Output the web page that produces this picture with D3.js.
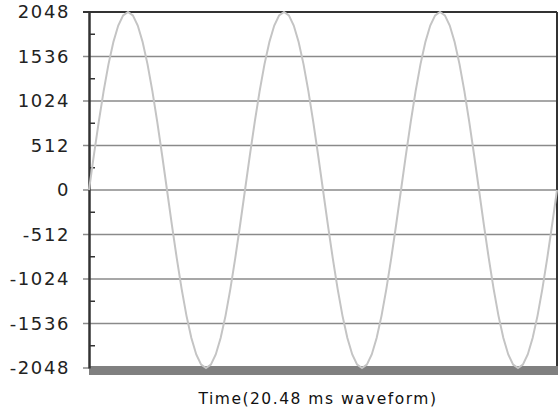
<!DOCTYPE html>
<html>
<head>
<meta charset="utf-8">
<script src="https://cdn.jsdelivr.net/npm/d3@7"></script>
<style>
  body { margin: 0; background: #fff; }
  svg { display: block; }
</style>
</head>
<body>
<div class="d3-container"></div>
<script>
// sample values of the waveform (3 cycles, 32 samples per cycle)
const samples = [
  0, 400, 784, 1138, 1448, 1703, 1892, 2009, 2048, 2009, 1892, 1703, 1448, 1138, 784, 400,
  0, -400, -784, -1138, -1448, -1703, -1892, -2009, -2048, -2009, -1892, -1703, -1448, -1138, -784, -400,
  0, 400, 784, 1138, 1448, 1703, 1892, 2009, 2048, 2009, 1892, 1703, 1448, 1138, 784, 400,
  0, -400, -784, -1138, -1448, -1703, -1892, -2009, -2048, -2009, -1892, -1703, -1448, -1138, -784, -400,
  0, 400, 784, 1138, 1448, 1703, 1892, 2009, 2048, 2009, 1892, 1703, 1448, 1138, 784, 400,
  0, -400, -784, -1138, -1448, -1703, -1892, -2009, -2048, -2009, -1892, -1703, -1448, -1138, -784, -400,
  0
];
const yTicks = [-2048, -1536, -1024, -512, 0, 512, 1024, 1536, 2048];
const yMinorTicks = [-1792, -1280, -768, -256, 256, 768, 1280, 1792];
const xLabel = "Time(20.48 ms waveform)";

// chart size
const width = 559;
const height = 410;
const margin = {top: 12, bottom: 42, left: 89, right: 2};

const svg = d3.select(".d3-container")
  .append("svg")
  .attr("width", width)
  .attr("height", height);

const x = d3.scaleLinear()
  .domain([0, samples.length - 1])
  .range([margin.left, width - margin.right]);

const y = d3.scaleLinear()
  .domain([-2048, 2048])
  .range([height - margin.bottom, margin.top]);

// grid lines (with the tick stub to the left of the axis)
svg.append("g")
  .selectAll("line")
  .data(yTicks.slice(1, -1))
  .join("line")
  .attr("x1", margin.left - 6)
  .attr("x2", width - margin.right)
  .attr("y1", d => y(d))
  .attr("y2", d => y(d))
  .attr("stroke", "#8a8a8a")
  .attr("stroke-width", 1.5);

// top border
svg.append("line")
  .attr("x1", margin.left - 6)
  .attr("x2", width - margin.right)
  .attr("y1", y(2048))
  .attr("y2", y(2048))
  .attr("stroke", "#333")
  .attr("stroke-width", 2);

// right border
svg.append("line")
  .attr("x1", width - margin.right)
  .attr("x2", width - margin.right)
  .attr("y1", y(2048))
  .attr("y2", y(-2048))
  .attr("stroke", "#333")
  .attr("stroke-width", 2);

// thick bottom bar
svg.append("rect")
  .attr("x", margin.left)
  .attr("y", y(-2048) - 2)
  .attr("width", width - margin.right - margin.left + 1)
  .attr("height", 9)
  .attr("fill", "#808080");

// bottom tick stub
svg.append("line")
  .attr("x1", margin.left - 6)
  .attr("x2", margin.left)
  .attr("y1", y(-2048))
  .attr("y2", y(-2048))
  .attr("stroke", "#8a8a8a")
  .attr("stroke-width", 1.5);

// y axis
const yAxis = d3.axisLeft(y)
  .tickValues(yTicks)
  .tickFormat(d => String(d))
  .tickSize(0)
  .tickPadding(19);

const yg = svg.append("g")
  .attr("transform", `translate(${margin.left}, 0)`)
  .call(yAxis);

yg.select(".domain")
  .attr("stroke", "#333")
  .attr("stroke-width", 2.5);

yg.selectAll("text")
  .attr("font-family", "DejaVu Sans, sans-serif")
  .attr("font-size", 18)
  .attr("letter-spacing", 1.6)
  .attr("fill", "#222");

// minor ticks inside the axis
svg.append("g")
  .selectAll("line")
  .data(yMinorTicks)
  .join("line")
  .attr("x1", margin.left)
  .attr("x2", margin.left + 6)
  .attr("y1", d => y(d))
  .attr("y2", d => y(d))
  .attr("stroke", "#333")
  .attr("stroke-width", 1.5);

// the waveform
const line = d3.line()
  .x((d, i) => x(i))
  .y(d => y(d));

svg.append("path")
  .datum(samples)
  .attr("d", line)
  .attr("fill", "none")
  .attr("stroke", "#c4c4c4")
  .attr("stroke-width", 2);

// x label
svg.append("text")
  .attr("x", 318)
  .attr("y", 404)
  .attr("text-anchor", "middle")
  .attr("font-family", "DejaVu Sans, sans-serif")
  .attr("font-size", 15.5)
  .attr("letter-spacing", 1.5)
  .attr("fill", "#111")
  .text(xLabel);
</script>
</body>
</html>
